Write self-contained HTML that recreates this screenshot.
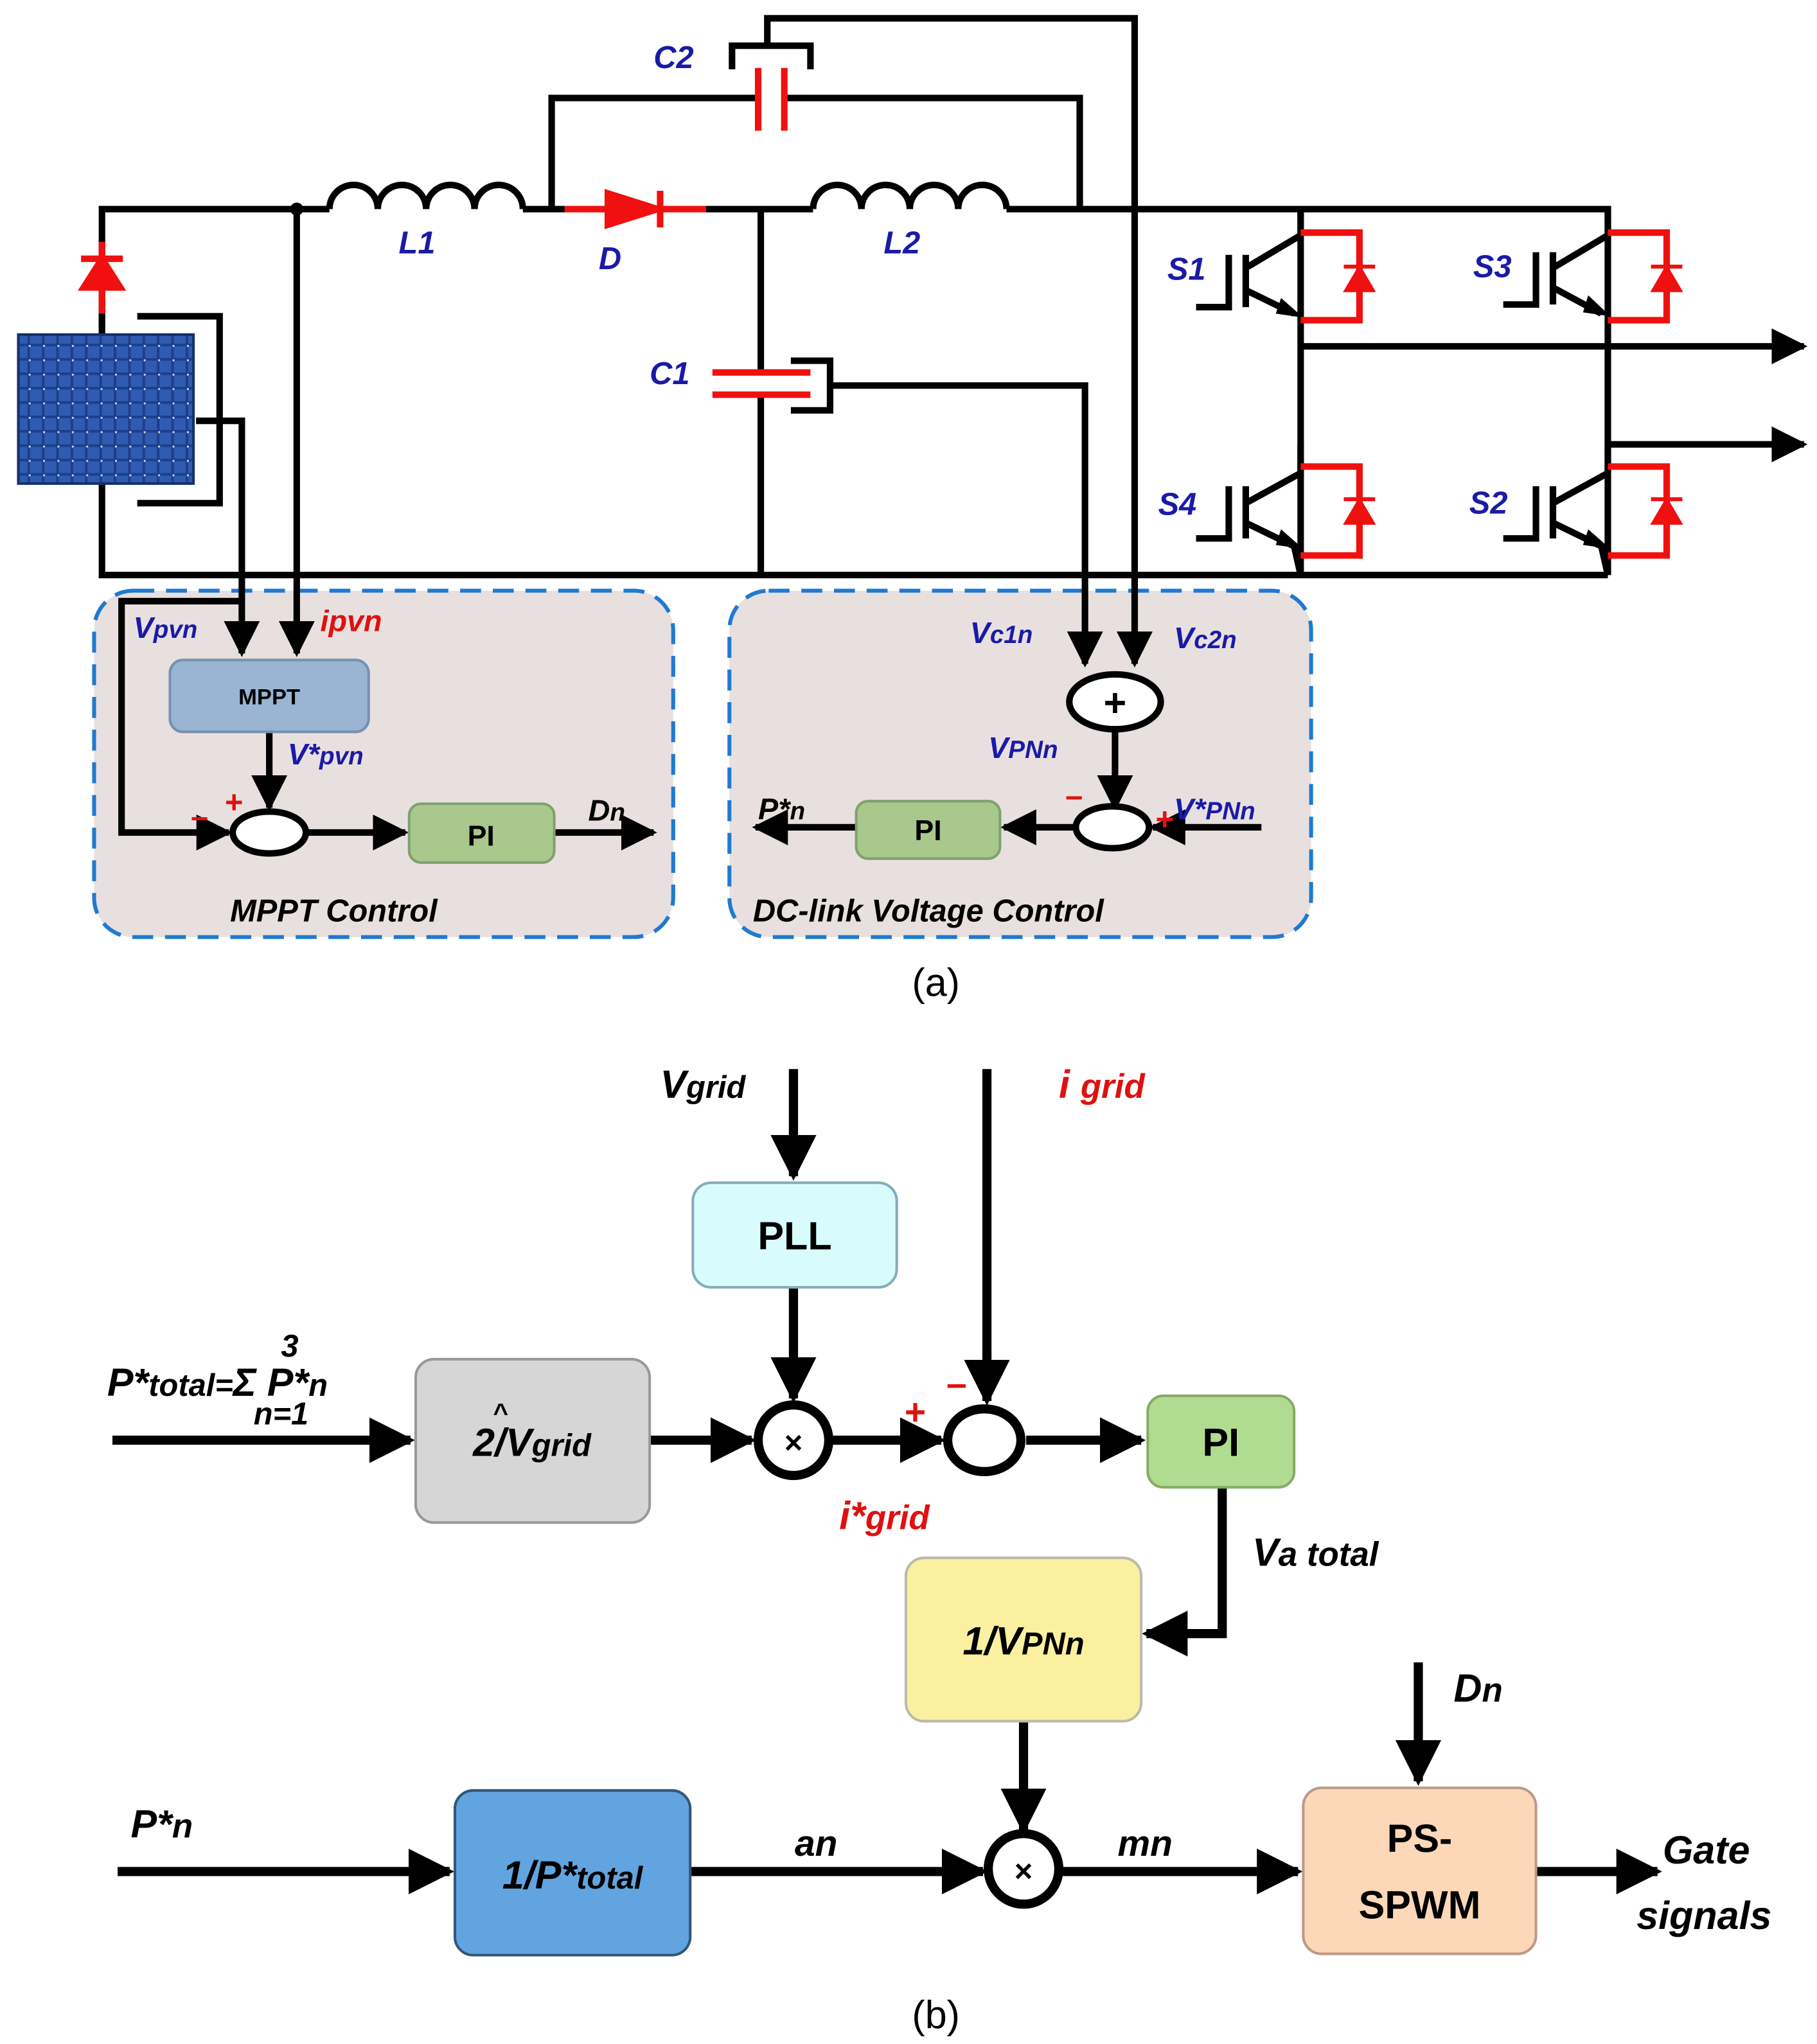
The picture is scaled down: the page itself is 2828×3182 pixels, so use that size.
<!DOCTYPE html>
<html><head><meta charset="utf-8"><style>
html,body{margin:0;padding:0;background:#fff}
svg{display:block}
text{font-family:"Liberation Sans","DejaVu Sans",sans-serif}
</style></head><body>
<svg width="2828" height="3182" viewBox="0 0 1390 1564" preserveAspectRatio="none" xmlns="http://www.w3.org/2000/svg">
<defs>
<marker id="ah" viewBox="0 0 10 10" refX="9" refY="5" markerWidth="5" markerHeight="5" orient="auto" markerUnits="strokeWidth"><path d="M0,0 L10,5 L0,10 z" fill="#000"/></marker>
<marker id="as" viewBox="0 0 10 10" refX="9" refY="5" markerWidth="5.5" markerHeight="5.5" orient="auto" markerUnits="strokeWidth"><path d="M0,0 L10,5 L0,10 z" fill="#000"/></marker>
<pattern id="pv" width="11" height="11" patternUnits="userSpaceOnUse"><rect width="11" height="11" fill="#1d3f8c"/><rect x="1" y="1" width="9" height="9" fill="#2f5bb0"/><circle cx="0.5" cy="0.5" r="1" fill="#cfd8ee"/></pattern>
</defs>
<!-- control boxes (behind) -->
<rect x="72" y="452" width="443" height="265" rx="30" fill="#e8e0df" stroke="#1f7ad0" stroke-width="3" stroke-dasharray="16,9"/>
<rect x="558" y="452" width="445" height="265" rx="30" fill="#e8e0df" stroke="#1f7ad0" stroke-width="3" stroke-dasharray="16,9"/>
<g fill="none" stroke="#000" stroke-width="5">
<path d="M78,250 L78,160 L252,160"/>
<path d="M78,230 L78,440 L1230,440"/>
<path d="M400,160 L432,160 M540,160 L622,160 M770,160 L1230,160 L1230,440"/>
<path d="M995,160 L995,440"/>
<path d="M422,160 L422,75 L578,75 M602,75 L826,75 L826,160"/>
<path d="M587,33 L587,14 L868,14 L868,508" marker-end="url(#as)"/>
<path d="M560,53 L560,35 L620,35 L620,53"/>
<path d="M582,160 L582,283 M582,302 L582,440"/>
<path d="M605,276 L635,276 L635,314 L605,314"/>
<path d="M635,295 L830,295 L830,508" marker-end="url(#as)"/>
<path d="M227,160 L227,500" marker-end="url(#as)"/>
<path d="M105,242 L168,242 L168,385 L105,385"/>
<path d="M150,322 L185,322 L185,500" marker-end="url(#as)"/>
<path d="M185,460 L93,460 L93,637 L175,637" marker-end="url(#as)"/>
<path d="M252,160 a18,18 0 0 1 37,0 a18,18 0 0 1 37,0 a18,18 0 0 1 37,0 a18,18 0 0 1 37,0"/>
<path d="M622,160 a18,18 0 0 1 37,0 a18,18 0 0 1 37,0 a18,18 0 0 1 37,0 a18,18 0 0 1 37,0"/>
<path d="M995,265 L1380,265" marker-end="url(#as)"/>
<path d="M1230,340 L1380,340" marker-end="url(#as)"/>
</g>
<circle cx="227" cy="160" r="5" fill="#000"/>
<g stroke="#f01010" stroke-width="5" fill="#f01010">
<path d="M78,185 L78,240" fill="none"/>
<path d="M64,220 L92,220 L78,198 z"/><path d="M62,198 L94,198" />
<path d="M432,160 L540,160" fill="none"/>
<path d="M465,148 L465,172 L503,160 z"/><path d="M505,146 L505,174"/>
<path d="M580,52 L580,100 M600,52 L600,100" fill="none"/>
<path d="M545,285 L620,285 M545,302 L620,302" fill="none"/>
</g>
<rect x="14" y="256" width="134" height="114" fill="url(#pv)" stroke="#14306a" stroke-width="2"/>
<g stroke="#000" stroke-width="5" fill="none">
<path d="M995,160 L995,180 L953,205 M953,195 L953,235 M940,195 L940,235 L915,235 M953,222 L990,240"/>
<path d="M995,340 L995,362 L953,385 M953,372 L953,412 M940,372 L940,412 L915,412 M953,400 L990,418 L995,440"/>
<path d="M1230,160 L1230,180 L1188,205 M1188,193 L1188,233 M1175,193 L1175,233 L1150,233 M1188,220 L1225,240"/>
<path d="M1230,342 L1230,362 L1188,385 M1188,372 L1188,412 M1175,372 L1175,412 L1150,412 M1188,400 L1225,418 L1230,440"/>
</g>
<g fill="#000"><path d="M980,228 L997,243 L976,240 z"/><path d="M980,405 L997,420 L976,417 z"/><path d="M1215,226 L1232,242 L1211,239 z"/><path d="M1215,405 L1232,420 L1211,417 z"/></g>
<g stroke="#f01010" stroke-width="5" fill="none">
<path d="M995,178 L1040,178 L1040,245 L995,245"/><path d="M995,357 L1040,357 L1040,425 L995,425"/>
<path d="M1230,178 L1275,178 L1275,245 L1230,245"/><path d="M1230,357 L1275,357 L1275,425 L1230,425"/>
</g>
<g fill="#f01010" stroke="#f01010" stroke-width="3">
<path d="M1030,222 L1050,222 L1040,205 z M1028,204 L1052,204"/>
<path d="M1030,400 L1050,400 L1040,383 z M1028,382 L1052,382"/>
<path d="M1265,222 L1285,222 L1275,205 z M1263,204 L1287,204"/>
<path d="M1265,400 L1285,400 L1275,383 z M1263,382 L1287,382"/>
</g>
<g font-weight="bold" font-style="italic" fill="#1a1aa8" font-size="24">
<text x="500" y="52">C2</text><text x="305" y="194">L1</text><text x="458" y="206">D</text>
<text x="676" y="194">L2</text><text x="497" y="294">C1</text>
<text x="893" y="214">S1</text><text x="1127" y="212">S3</text>
<text x="886" y="394">S4</text><text x="1124" y="393">S2</text>
</g>
<g stroke="#000" stroke-width="5" fill="none">
<path d="M206,560 L206,618" marker-end="url(#as)"/>
<path d="M234,637 L310,637" marker-end="url(#as)"/>
<path d="M424,637 L500,637" marker-end="url(#as)"/>
<path d="M853,559 L853,618" marker-end="url(#as)"/>
<path d="M822,633 L768,633" marker-end="url(#as)"/>
<path d="M655,633 L578,633" marker-end="url(#as)"/>
<path d="M965,633 L882,633" marker-end="url(#as)"/>
</g>
<ellipse cx="206" cy="637" rx="28" ry="16" fill="#fff" stroke="#000" stroke-width="5"/>
<ellipse cx="853" cy="537" rx="35" ry="21" fill="#fff" stroke="#000" stroke-width="5"/>
<text x="853" y="548" text-anchor="middle" font-size="30" font-weight="bold">+</text>
<ellipse cx="851" cy="633" rx="28" ry="16" fill="#fff" stroke="#000" stroke-width="5"/>
<rect x="130" y="505" width="152" height="55" rx="10" fill="#9ab4d4" stroke="#7890b0" stroke-width="2"/>
<text x="206" y="539" text-anchor="middle" font-size="17" font-weight="bold">MPPT</text>
<rect x="313" y="615" width="111" height="45" rx="9" fill="#a9c88c" stroke="#80a070" stroke-width="2"/>
<text x="368" y="647" text-anchor="middle" font-size="22" font-weight="bold">PI</text>
<rect x="655" y="613" width="110" height="44" rx="9" fill="#a9c88c" stroke="#80a070" stroke-width="2"/>
<text x="710" y="643" text-anchor="middle" font-size="22" font-weight="bold">PI</text>
<g font-weight="bold" font-style="italic" font-size="23">
<text x="102" y="488" fill="#1a1aa8">V<tspan font-size="19">pvn</tspan></text>
<text x="245" y="483" fill="#e01010">ipvn</text>
<text x="220" y="585" fill="#1a1aa8">V*<tspan font-size="19">pvn</tspan></text>
<text x="450" y="628" fill="#000">D<tspan font-size="19">n</tspan></text>
<text x="742" y="492" fill="#1a1aa8">V<tspan font-size="19">c1n</tspan></text>
<text x="898" y="496" fill="#1a1aa8">V<tspan font-size="19">c2n</tspan></text>
<text x="756" y="580" fill="#1a1aa8">V<tspan font-size="19">PNn</tspan></text>
<text x="898" y="627" fill="#1a1aa8">V*<tspan font-size="19">PNn</tspan></text>
<text x="580" y="627" fill="#000">P*<tspan font-size="19">n</tspan></text>
<text x="176" y="705" fill="#000" font-size="24">MPPT Control</text>
<text x="576" y="705" fill="#000" font-size="24">DC-link Voltage Control</text>
</g>
<g fill="#e01010" font-weight="bold" font-size="24"><text x="172" y="622">+</text><text x="146" y="633">–</text><text x="815" y="617">–</text><text x="884" y="635">+</text></g>
<text x="716" y="762" text-anchor="middle" font-family="Liberation Serif,serif" font-size="30">(a)</text>

<g stroke="#000" stroke-width="7" fill="none">
<path d="M607,818 L607,900" marker-end="url(#ah)"/>
<path d="M607,985 L607,1070" marker-end="url(#ah)"/>
<path d="M755,818 L755,1072" marker-end="url(#ah)"/>
<path d="M86,1102 L314,1102" marker-end="url(#ah)"/>
<path d="M497,1102 L575,1102" marker-end="url(#ah)"/>
<path d="M637,1102 L720,1102" marker-end="url(#ah)"/>
<path d="M785,1102 L873,1102" marker-end="url(#ah)"/>
<path d="M935,1138 L935,1250 L877,1250" marker-end="url(#ah)"/>
<path d="M783,1317 L783,1400" marker-end="url(#ah)"/>
<path d="M90,1432 L344,1432" marker-end="url(#ah)"/>
<path d="M528,1432 L752,1432" marker-end="url(#ah)"/>
<path d="M812,1432 L993,1432" marker-end="url(#ah)"/>
<path d="M1085,1272 L1085,1363" marker-end="url(#ah)"/>
<path d="M1175,1432 L1268,1432" marker-end="url(#ah)"/>
</g>
<circle cx="607" cy="1102" r="27" fill="#fff" stroke="#000" stroke-width="7"/>
<text x="607" y="1112" text-anchor="middle" font-size="24" font-weight="bold">×</text>
<ellipse cx="753" cy="1102" rx="28" ry="24" fill="#fff" stroke="#000" stroke-width="7"/>
<circle cx="783" cy="1430" r="27" fill="#fff" stroke="#000" stroke-width="7"/>
<text x="783" y="1440" text-anchor="middle" font-size="24" font-weight="bold">×</text>
<g stroke-width="2">
<rect x="530" y="905" width="156" height="80" rx="14" fill="#d8fbfc" stroke="#8ab"/>
<rect x="318" y="1040" width="179" height="125" rx="14" fill="#d6d6d6" stroke="#999"/>
<rect x="878" y="1068" width="112" height="70" rx="12" fill="#b0dc90" stroke="#8a6"/>
<rect x="693" y="1192" width="180" height="125" rx="14" fill="#fbf0a0" stroke="#bba"/>
<rect x="348" y="1370" width="180" height="126" rx="14" fill="#62a4e0" stroke="#357"/>
<rect x="997" y="1368" width="178" height="127" rx="14" fill="#fcd8b8" stroke="#b98"/>
</g>
<g font-weight="bold" font-size="30" text-anchor="middle">
<text x="608" y="956">PLL</text>
<text x="934" y="1114">PI</text>
<text x="407" y="1114" font-style="italic">2/V<tspan font-size="24">grid</tspan></text>
<text x="383" y="1088" font-size="20">^</text>
<text x="783" y="1266" font-style="italic">1/V<tspan font-size="24">PNn</tspan></text>
<text x="438" y="1445" font-style="italic">1/P*<tspan font-size="24">total</tspan></text>
<text x="1086" y="1417">PS-</text>
<text x="1086" y="1468">SPWM</text>
</g>
<g font-weight="bold" font-style="italic" font-size="30">
<text x="505" y="840">V<tspan font-size="24">grid</tspan></text>
<text x="810" y="840" fill="#e01010">i <tspan font-size="26">grid</tspan></text>
<text x="82" y="1068">P*<tspan font-size="24">total=</tspan>Σ P*<tspan font-size="24">n</tspan></text>
<text x="215" y="1038" font-size="24">3</text>
<text x="194" y="1090" font-size="24">n=1</text>
<text x="642" y="1170" fill="#e01010">i*<tspan font-size="26">grid</tspan></text>
<text x="958" y="1198">V<tspan font-size="26">a total</tspan></text>
<text x="1112" y="1302">D<tspan font-size="26">n</tspan></text>
<text x="100" y="1406">P*<tspan font-size="26">n</tspan></text>
<text x="608" y="1420" font-size="28">an</text>
<text x="855" y="1420" font-size="28">mn</text>
<text x="1272" y="1426">Gate</text>
<text x="1252" y="1476">signals</text>
</g>
<g fill="#e01010" font-weight="bold" font-size="28"><text x="692" y="1090">+</text><text x="724" y="1068">–</text></g>
<text x="716" y="1552" text-anchor="middle" font-family="Liberation Serif,serif" font-size="30">(b)</text>
</svg>
</body></html>
